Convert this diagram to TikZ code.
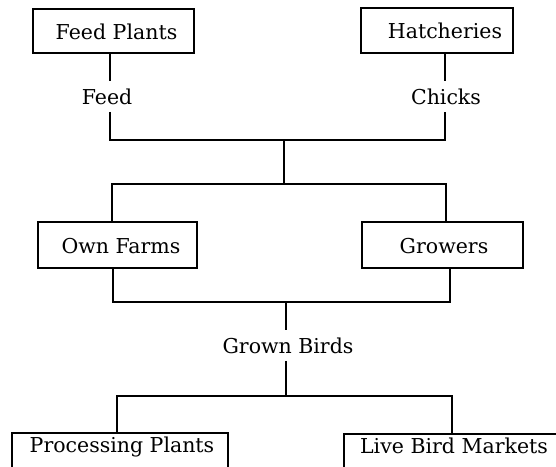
\documentclass[tikz,border=0pt]{standalone}
\usepackage{fontspec}
\setmainfont{DejaVu Serif}
\begin{document}
\begin{tikzpicture}[x=1pt,y=-1pt,
  txt/.style={font=\fontsize{20.5}{24}\selectfont},
  box/.style={txt,draw,line width=1.6pt,inner xsep=0pt,inner ysep=0pt,text height=16pt,text depth=0pt},
  lbl/.style={txt,inner xsep=1pt,inner ysep=7.5pt},
  conn/.style={line width=1.6pt}]
\useasboundingbox (0,0) rectangle (556,466);
\begin{scope}
\clip (0,0) rectangle (556,466);
% boxes
\node[box,minimum width=161pt,minimum height=44pt] (fp) at (113.5,31) {\hspace*{6pt}Feed Plants};
\node[box,minimum width=152pt,minimum height=45pt] (hat) at (437,30.5) {\hspace*{16pt}Hatcheries};
\node[box,minimum width=159pt,minimum height=46pt] (own) at (117.5,245) {\hspace*{7pt}Own Farms};
\node[box,minimum width=161pt,minimum height=46pt] (grow) at (442.5,245) {\hspace*{3pt}Growers};
\node[box,anchor=north,minimum width=216pt,text height=20pt,text depth=40pt] (proc) at (120,432) {\hspace*{4pt}Processing Plants};
\node[box,anchor=north,minimum width=226pt,text height=20pt,text depth=40pt] (live) at (457,433) {Live Bird Markets\hspace*{6pt}};
% labels
\node[lbl,anchor=base] (feed) at (107,104) {Feed};
\node[lbl,anchor=base] (chicks) at (446,104) {Chicks};
\node[lbl,anchor=base] (gb) at (288,353) {Grown Birds};
% junction coordinates
\coordinate (j1) at (284,140);
\coordinate (j2) at (284,184);
\coordinate (j3) at (286,302);
\coordinate (j4) at (286,396);
\coordinate (xa) at (110,0);
\coordinate (xb) at (445,0);
\coordinate (xc) at (112,0);
\coordinate (xd) at (446,0);
\coordinate (xe) at (113,0);
\coordinate (xf) at (450,0);
\coordinate (xg) at (117,0);
\coordinate (xh) at (452,0);
% connectors
\draw[conn] (fp.south -| xa) -- (feed.north -| xa);
\draw[conn] (hat.south -| xb) -- (chicks.north -| xb);
\draw[conn] (feed.south -| xa) -- (j1 -| xa) -- (j1 -| xb) -- (chicks.south -| xb);
\draw[conn] (j1) -- (j2);
\draw[conn] (own.north -| xc) -- (j2 -| xc) -- (j2 -| xd) -- (grow.north -| xd);
\draw[conn] (own.south -| xe) -- (j3 -| xe) -- (j3 -| xf) -- (grow.south -| xf);
\draw[conn] (j3) -- (gb.north -| j3);
\draw[conn] (gb.south -| j4) -- (j4);
\draw[conn] (proc.north -| xg) -- (j4 -| xg) -- (j4 -| xh) -- (live.north -| xh);
\end{scope}
\end{tikzpicture}
\end{document}
